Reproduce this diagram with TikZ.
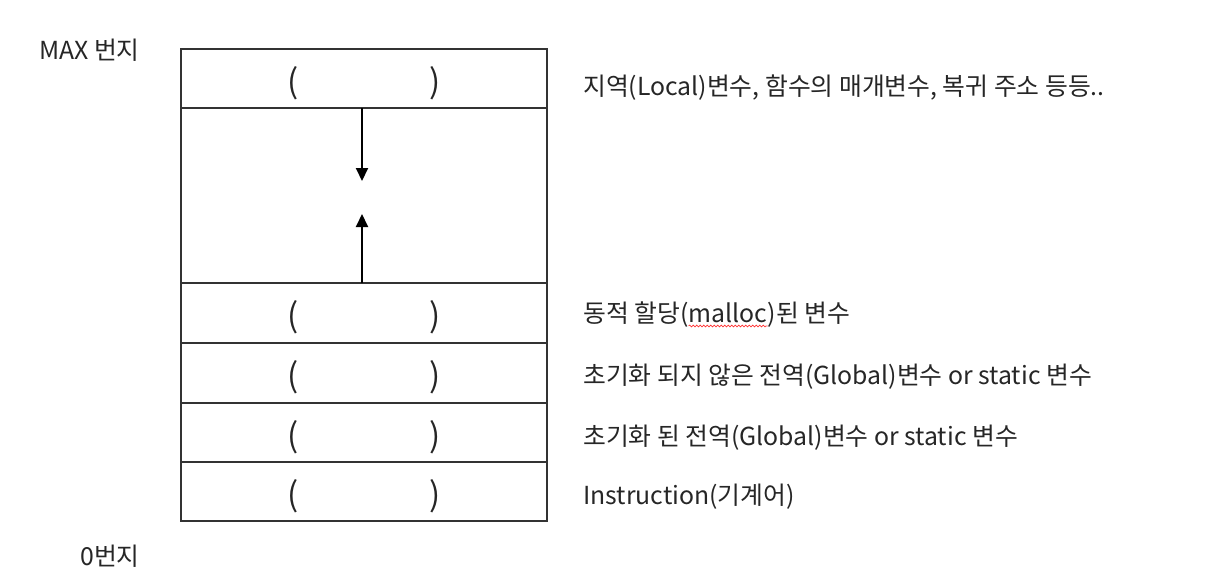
\documentclass[tikz,border=0pt]{standalone}
\usepackage{fontspec}
\setmainfont{Noto Sans CJK KR}
\usepackage{xcolor}
\usetikzlibrary{calc,positioning,arrows.meta,decorations.pathmorphing}

\definecolor{boxline}{HTML}{333333}
\tikzset{
  row/.style={draw=boxline, line width=1.8pt},
  paren/.style={font=\fontsize{33}{33}\selectfont, inner sep=0pt, text=black!85},
  desc/.style={anchor=west, font=\fontsize{24.8}{24.8}\selectfont, inner sep=0pt, text=black!85},
  addr/.style={anchor=east, font=\fontsize{24.8}{24.8}\selectfont, inner sep=0pt, text=black!85},
  growarrow/.style={line width=2pt, -{Triangle[length=13pt,width=12pt]}},
  spell/.style={red!80, line width=0.7pt, decorate, decoration={snake, amplitude=0.9pt, segment length=3.5pt}}
}

\begin{document}
\begin{tikzpicture}[x=1pt,y=-1pt]
       \useasboundingbox (0,0) rectangle (1218,576);

       \coordinate (TL) at (181,49);
       \coordinate (BR) at (547,521);

       \draw[row] (TL) rectangle (BR);
       \draw[row] (181,108) -- (547,108);
       \draw[row] (181,283) -- (547,283);
       \draw[row] (181,343) -- (547,343);
       \draw[row] (181,403) -- (547,403);
       \draw[row] (181,462) -- (547,462);

       % stack / heap
       \coordinate (S) at (362,108);
       \coordinate (Sd) at (362,181);
       \coordinate (H) at (362,283);
       \coordinate (Hu) at (362,214);
       \draw[growarrow] (S) -- (Sd);
       \draw[growarrow] (H) -- (Hu);

       \node[paren] (p1l) at (293,83) {(};
       \node[paren] (p1r) at (435,83) {)};
       \node[paren] (p2l) at (293,317) {(};
       \node[paren] (p2r) at (435,317) {)};
       \node[paren] (p3l) at (293,377) {(};
       \node[paren] (p3r) at (435,377) {)};
       \node[paren] (p4l) at (293,437) {(};
       \node[paren] (p4r) at (435,437) {)};
       \node[paren] (p5l) at (293,496) {(};
       \node[paren] (p5r) at (435,496) {)};

       \node[addr] (max) at (140,50) {MAX 번지};
       \node[addr] (zero) at (140,556) {0번지};

       \node[desc] (stack) at (583,88) {지역(Local)변수, 함수의 매개변수, 복귀 주소 등등..};
       \node[desc] (heap) at (583,315) {동적 할당(};
       \node[desc, anchor=base west] (malloc) at (heap.base east) {malloc};
       \node[desc, anchor=base west] (heapend) at (malloc.base east) {)된 변수};
       \node[desc] (bss) at (583,377) {초기화 되지 않은 전역(Global)변수 or static 변수};
       \node[desc] (data) at (583,438) {초기화 된 전역(Global)변수 or static 변수};
       \node[desc] (code) at (583,497) {Instruction(기계어)};

       \draw[spell] ($(malloc.base west)+(0,3)$) -- ($(malloc.base east)+(0,3)$);
\end{tikzpicture}
\end{document}
